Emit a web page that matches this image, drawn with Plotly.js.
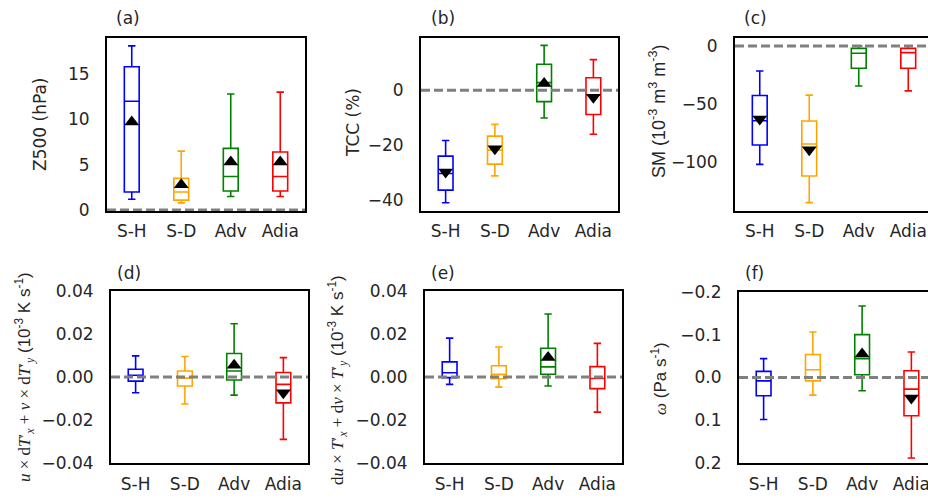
<!DOCTYPE html>
<html>
<head>
<meta charset="utf-8">
<script src="https://cdn.plot.ly/plotly-3.0.1.min.js"></script>
<style>
html, body { margin:0; padding:0; overflow:hidden; background:#fff; }
#chart { width:950px; height:498px; }
</style>
</head>
<body>
<div id="chart"></div>
<script>
// ---------------- DATA ----------------
const categories = ["S-H", "S-D", "Adv", "Adia"];
const boxColors = ["#0000FF", "#FFA500", "#008000", "#FF0000"];

// (a) Z500 (hPa)
const z500Lower = [1.2, 0.8, 1.5, 1.5];
const z500Q1    = [2.0, 1.1, 2.1, 2.1];
const z500Med   = [12.0, 2.0, 3.7, 3.7];
const z500Q3    = [15.8, 3.5, 6.8, 6.4];
const z500Upper = [18.1, 6.5, 12.8, 13.0];
const z500Mean  = [9.7, 2.8, 5.3, 5.3];

// (b) TCC (%)
const tccLower = [-41.0, -31.2, -10.1, -16.0];
const tccQ1    = [-36.4, -26.9, -4.1, -8.8];
const tccMed   = [-30.3, -21.8, 2.8, -1.8];
const tccQ3    = [-24.0, -16.7, 9.5, 4.6];
const tccUpper = [-18.3, -12.4, 16.4, 11.2];
const tccMean  = [-29.8, -21.3, 2.5, -2.5];

// (c) SM (10^-3 m3 m-3)
const smLower = [-102.3, -135.4, -34.5, -38.8];
const smQ1    = [-85.6, -112.4, -19.2, -19.2];
const smMed   = [-64.6, -84.7, -6.3, -5.7];
const smQ3    = [-42.7, -64.8, -2.0, -2.0];
const smUpper = [-21.6, -42.4, 0.0, 0.0];
const smMean  = [-63.0, -89.6, null, null];

// (d) u*dTx' + v*dTy'
const advLower = [-0.0073, -0.0125, -0.0084, -0.0289];
const advQ1    = [-0.0019, -0.0042, -0.0014, -0.0120];
const advMed   = [0.0008, -0.0005, 0.0028, -0.0034];
const advQ3    = [0.0036, 0.0028, 0.0109, 0.0021];
const advUpper = [0.0098, 0.0095, 0.0247, 0.0090];
const advMean  = [null, null, 0.0055, -0.0073];

// (e) du*Tx' + dv*Ty'
const dadvLower = [-0.0034, -0.0047, -0.0042, -0.0163];
const dadvQ1    = [-0.0003, -0.0008, 0.0013, -0.0054];
const dadvMed   = [0.0020, 0.0012, 0.0047, -0.0007];
const dadvQ3    = [0.0070, 0.0052, 0.0133, 0.0048];
const dadvUpper = [0.0180, 0.0139, 0.0292, 0.0156];
const dadvMean  = [null, null, 0.0090, null];

// (f) omega (Pa s-1)
const omegaLower = [-0.044, -0.106, -0.1665, -0.0595];
const omegaQ1    = [-0.0142, -0.0535, -0.100, -0.0157];
const omegaMed   = [0.0079, -0.018, -0.044, 0.027];
const omegaQ3    = [0.0425, 0.0079, -0.0063, 0.089];
const omegaUpper = [0.098, 0.041, 0.031, 0.1876];
const omegaMean  = [null, null, -0.055, 0.048];

const panelLabels = ["(a)", "(b)", "(c)", "(d)", "(e)", "(f)"];
const yTitles = [
  "Z500 (hPa)",
  "TCC (%)",
  "SM (10<sup>-3</sup> m<sup>3</sup> m<sup>-3</sup>)",
  "<span style=\"font-family:'Liberation Serif'\"><i>u</i> × d<i>T</i>′<sub><i>x</i></sub> + <i>v</i> × d<i>T</i>′<sub><i>y</i></sub></span> (10<sup>-3</sup> K s<sup>-1</sup>)",
  "<span style=\"font-family:'Liberation Serif'\">d<i>u</i> × <i>T</i>′<sub><i>x</i></sub> + d<i>v</i> × <i>T</i>′<sub><i>y</i></sub></span> (10<sup>-3</sup> K s<sup>-1</sup>)",
  "<span style=\"font-family:'Liberation Serif'\"><i>ω</i></span> (Pa s<sup>-1</sup>)"
];

// ---------------- LAYOUT / BUILD ----------------
const W = 950, H = 498;
const panels = [
  {lo:z500Lower, q1:z500Q1, med:z500Med, q3:z500Q3, up:z500Upper, mean:z500Mean,
   xpx:[107,305], ypx:[37.7,211], range:[-0.1,19.0], dtick:5, fmt:"d", rev:false,
   lab:[128,18], tit:[40,125], titFont:{family:"DejaVu Sans", size:17}},
  {lo:tccLower, q1:tccQ1, med:tccMed, q3:tccQ3, up:tccUpper, mean:tccMean,
   xpx:[421,618], ypx:[37.7,211], range:[-44,19.2], dtick:20, fmt:"d", rev:false,
   lab:[443,18], tit:[353,123], titFont:{family:"DejaVu Sans", size:17}},
  {lo:smLower, q1:smQ1, med:smMed, q3:smQ3, up:smUpper, mean:smMean,
   xpx:[735,933], ypx:[37.7,211], range:[-142.6,7.2], dtick:50, fmt:"d", rev:false,
   lab:[755,18], tit:[657,112], titFont:{family:"Liberation Sans", size:18}},
  {lo:advLower, q1:advQ1, med:advMed, q3:advQ3, up:advUpper, mean:advMean,
   xpx:[111,308], ypx:[290.7,463.3], range:[-0.04,0.04], dtick:0.02, fmt:".2f", rev:false,
   lab:[129,273], tit:[24,377], titFont:{family:"Liberation Sans", size:17}},
  {lo:dadvLower, q1:dadvQ1, med:dadvMed, q3:dadvQ3, up:dadvUpper, mean:dadvMean,
   xpx:[425,622], ypx:[290.7,463.3], range:[-0.04,0.04], dtick:0.02, fmt:".2f", rev:false,
   lab:[443,273], tit:[337,380], titFont:{family:"Liberation Sans", size:17}},
  {lo:omegaLower, q1:omegaQ1, med:omegaMed, q3:omegaQ3, up:omegaUpper, mean:omegaMean,
   xpx:[739,936], ypx:[291.7,463.3], range:[0.2,-0.2], dtick:0.1, fmt:".1f", rev:true,
   lab:[754,273], tit:[659,379], titFont:{family:"Liberation Sans", size:17}}
];

const textColor = "#262626";
const tickFont = {family:"DejaVu Sans", size:17, color:textColor};
const traces = [];
const layout = {
  width: W, height: H,
  margin: {l:0, r:0, t:0, b:0},
  paper_bgcolor: "#fff", plot_bgcolor: "#fff",
  showlegend: false,
  boxmode: "overlay",
  annotations: [], shapes: []
};

panels.forEach((p, i) => {
  const n = i + 1;
  const xa = n === 1 ? "x" : "x" + n;
  const ya = n === 1 ? "y" : "y" + n;
  const xkey = n === 1 ? "xaxis" : "xaxis" + n;
  const ykey = n === 1 ? "yaxis" : "yaxis" + n;

  categories.forEach((c, k) => {
    traces.push({
      type: "box", xaxis: xa, yaxis: ya,
      x: [c], q1: [p.q1[k]], median: [p.med[k]], q3: [p.q3[k]],
      lowerfence: [p.lo[k]], upperfence: [p.up[k]],
      width: 0.3, whiskerwidth: 0.5, boxpoints: false,
      line: {color: boxColors[k], width: 1.6},
      fillcolor: "rgba(255,255,255,0)",
      hoverinfo: "skip"
    });
  });

  const mx = [], my = [], ms = [];
  categories.forEach((c, k) => {
    const v = p.mean[k];
    if (v === null) return;
    mx.push(c); my.push(v);
    const upward = p.rev ? v < 0 : v > 0;
    ms.push(upward ? "triangle-up" : "triangle-down");
  });
  traces.push({
    type: "scatter", mode: "markers", xaxis: xa, yaxis: ya,
    x: mx, y: my, marker: {symbol: ms, size: 13, color: "#000"},
    hoverinfo: "skip", cliponaxis: false
  });

  layout[xkey] = {
    domain: [p.xpx[0]/W, p.xpx[1]/W], anchor: ya,
    type: "category", categoryorder: "array", categoryarray: categories,
    range: [-0.5, 3.5], showgrid: false, zeroline: false,
    showline: true, mirror: true, linecolor: "#000", linewidth: 2,
    ticks: "", tickfont: tickFont, ticklabelstandoff: 4
  };
  layout[ykey] = {
    domain: [1 - p.ypx[1]/H, 1 - p.ypx[0]/H], anchor: xa,
    range: p.range, autorange: false, dtick: p.dtick, tick0: 0, tickformat: p.fmt,
    showgrid: false, zeroline: false,
    showline: true, mirror: true, linecolor: "#000", linewidth: 2,
    ticks: "", tickfont: tickFont, ticklabelstandoff: 12
  };

  layout.shapes.push({
    type: "line", xref: xa + " domain", yref: ya, x0: 0, x1: 1, y0: 0, y1: 0,
    line: {color: "#808080", width: 3, dash: "9px,4px"}, layer: "above"
  });

  layout.annotations.push({
    text: panelLabels[i], xref: "paper", yref: "paper",
    x: p.lab[0]/W, y: 1 - p.lab[1]/H, xanchor: "center", yanchor: "middle",
    showarrow: false, font: {family:"DejaVu Sans", size:17, color:textColor}
  });
  layout.annotations.push({
    text: yTitles[i], xref: "paper", yref: "paper",
    x: p.tit[0]/W, y: 1 - p.tit[1]/H, xanchor: "center", yanchor: "middle",
    textangle: -90, showarrow: false,
    font: Object.assign({color:textColor}, p.titFont)
  });
});

Plotly.newPlot("chart", traces, layout, {staticPlot: true, displayModeBar: false});
</script>
</body>
</html>
